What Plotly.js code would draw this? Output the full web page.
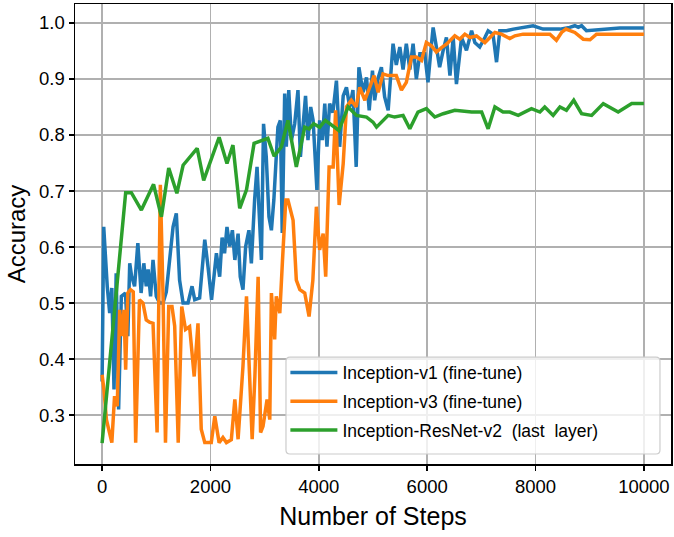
<!DOCTYPE html>
<html>
<head>
<meta charset="utf-8">
<script src="https://cdn.plot.ly/plotly-3.0.1.min.js"></script>
<style>html,body{margin:0;padding:0;background:#fff;}#chart{width:674px;height:537px;}</style>
</head>
<body>
<div id="chart"></div>
<script>
// Inception-v1 (fine-tune)
const stepsV1 = [0,30,95,140,180,220,260,305,355,430,
475,510,545,600,660,720,770,815,850,895,
940,1000,1060,1125,1185,1245,1310,1370,1430,1495,
1585,1660,1710,1800,1895,1955,2020,2110,2170,2215,
2260,2305,2355,2405,2450,2510,2550,2600,2650,2710,
2755,2815,2860,2900,2940,2980,3030,3080,3125,3170,
3245,3290,3325,3370,3400,3445,3495,3555,3615,3660,
3710,3755,3800,3850,3895,3965,4015,4065,4110,4150,
4200,4260,4325,4385,4450,4510,4570,4630,4690,4740,
4815,4880,4930,4990,5030,5090,5155,5215,5280,5370,
5430,5495,5555,5615,5680,5740,5800,5865,5955,6015,
6080,6110,6170,6230,6295,6355,6420,6480,6540,6635,
6725,6790,6820,6880,6970,7065,7125,7215,7280,7340,
7465,7590,7770,7955,8140,8450,8630,8725,8790,8850,
8940,9065,9555,10000];
const accV1 = [0.36,0.636,0.53,0.482,0.527,0.346,0.553,0.31,0.512,0.518,
0.441,0.571,0.548,0.53,0.607,0.518,0.571,0.53,0.56,0.512,
0.577,0.512,0.5,0.5,0.52,0.571,0.636,0.66,0.541,0.5,
0.5,0.53,0.506,0.509,0.613,0.565,0.506,0.589,0.547,0.617,
0.589,0.636,0.601,0.630,0.577,0.624,0.547,0.524,0.601,0.630,
0.571,0.684,0.743,0.660,0.577,0.820,0.761,0.654,0.630,0.684,
0.814,0.826,0.625,0.874,0.779,0.880,0.791,0.820,0.880,0.761,
0.826,0.870,0.791,0.850,0.826,0.702,0.826,0.791,0.856,0.779,
0.856,0.840,0.897,0.779,0.870,0.885,0.850,0.880,0.743,0.921,
0.876,0.903,0.844,0.915,0.862,0.900,0.921,0.868,0.844,0.963,
0.925,0.957,0.917,0.963,0.917,0.963,0.900,0.945,0.945,0.894,
0.963,0.992,0.957,0.921,0.951,0.974,0.906,0.974,0.891,0.974,
0.951,0.974,0.986,0.965,0.957,0.974,0.986,0.980,0.930,0.986,
0.986,0.989,0.992,0.995,0.989,0.989,0.992,0.995,0.992,0.995,
0.986,0.987,0.991,0.991];

// Inception-v3 (fine-tune)
const stepsV3 = [0,35,80,140,180,230,280,325,365,405,
435,475,525,575,620,690,755,815,875,940,
1015,1075,1125,1170,1230,1290,1340,1405,1470,1540,
1615,1700,1770,1830,1895,2015,2080,2160,2230,2295,
2385,2450,2510,2600,2665,2720,2770,2820,2880,2925,
2970,3045,3095,3125,3185,3215,3280,3330,3390,3430,
3490,3525,3585,3650,3740,3820,3890,3955,4015,4080,
4127,4190,4265,4310,4375,4450,4510,4600,4690,4755,
4850,4940,5020,5095,5185,5280,5430,5525,5615,5710,
5800,5895,5985,6080,6170,6265,6355,6510,6600,6695,
6790,6910,7065,7250,7370,7525,7620,7770,7955,8265,
8385,8480,8560,8725,8880,9005,9125,10000];
const accV3 = [0.372,0.345,0.292,0.265,0.251,0.334,0.316,0.488,0.441,0.488,
0.381,0.518,0.524,0.52,0.251,0.506,0.5,0.470,0.466,0.464,
0.269,0.711,0.512,0.251,0.494,0.494,0.459,0.251,0.494,0.453,
0.458,0.369,0.464,0.275,0.251,0.251,0.298,0.251,0.26,0.251,
0.256,0.328,0.257,0.387,0.512,0.375,0.257,0.369,0.547,0.269,
0.28,0.328,0.292,0.518,0.435,0.512,0.482,0.577,0.684,0.684,
0.660,0.648,0.541,0.524,0.518,0.476,0.541,0.672,0.595,0.624,
0.547,0.743,0.743,0.844,0.675,0.749,0.850,0.862,0.850,0.885,
0.862,0.885,0.906,0.876,0.909,0.906,0.906,0.880,0.894,0.939,
0.939,0.933,0.965,0.959,0.948,0.956,0.962,0.977,0.971,0.980,
0.974,0.977,0.965,0.983,0.980,0.972,0.977,0.980,0.980,0.980,
0.969,0.983,0.989,0.983,0.971,0.970,0.980,0.980];

// Inception-ResNet-v2 (last layer)
const stepsRes = [0,435,540,725,950,1095,1230,1380,1495,1755,
1875,2160,2305,2415,2540,2665,2805,3060,3175,3310,
3430,3585,3740,3820,3905,4015,4120,4370,4540,4695,
4880,5000,5065,5280,5400,5555,5680,5830,5985,6140,
6295,6510,6820,7005,7125,7250,7400,7525,7680,7925,
8080,8170,8325,8450,8570,8705,8850,9035,9250,9525,
9775,10000];
const accRes = [0.25,0.697,0.697,0.666,0.712,0.654,0.741,0.696,0.746,0.776,
0.719,0.796,0.749,0.782,0.669,0.702,0.785,0.794,0.762,0.779,
0.826,0.743,0.814,0.811,0.820,0.814,0.826,0.808,0.850,0.835,
0.832,0.823,0.814,0.835,0.832,0.835,0.811,0.841,0.847,0.832,
0.838,0.844,0.841,0.841,0.811,0.850,0.841,0.841,0.835,0.847,
0.841,0.850,0.835,0.850,0.844,0.862,0.838,0.835,0.856,0.841,
0.856,0.856];

const seriesNames = ["Inception-v1 (fine-tune)", "Inception-v3 (fine-tune)", "Inception-ResNet-v2  (last  layer)"];
const seriesColors = ["#1f77b4", "#ff7f0e", "#2ca02c"];
const xTickVals = [0, 2000, 4000, 6000, 8000, 10000];
const yTickVals = [0.3, 0.4, 0.5, 0.6, 0.7, 0.8, 0.9, 1.0];

const xs = [stepsV1, stepsV3, stepsRes];
const ys = [accV1, accV3, accRes];
const traces = xs.map((x, i) => ({
  x: x, y: ys[i], type: 'scatter', mode: 'lines', name: seriesNames[i],
  legendgroup: 'g' + i,
  line: {color: seriesColors[i], width: 3.5, shape: 'linear'}
}));

// legend frame (rounded rectangle, paper coordinates)
const bx0 = 0.354, bx1 = 0.9815, by0 = 0.0217, by1 = 0.2324, rx = 0.0067, ry = 0.0087;
const legendFrame = `M ${bx0+rx},${by0} L ${bx1-rx},${by0} Q ${bx1},${by0} ${bx1},${by0+ry} ` +
  `L ${bx1},${by1-ry} Q ${bx1},${by1} ${bx1-rx},${by1} L ${bx0+rx},${by1} Q ${bx0},${by1} ${bx0},${by1-ry} ` +
  `L ${bx0},${by0+ry} Q ${bx0},${by0} ${bx0+rx},${by0} Z`;

const FONT = '"Liberation Sans", Arial, Helvetica, sans-serif';
const layout = {
  width: 674, height: 537,
  margin: {l: 75, r: 3, t: 4, b: 73},
  paper_bgcolor: '#fff', plot_bgcolor: '#fff',
  font: {family: FONT, color: '#000', size: 18},
  showlegend: true,
  xaxis: {
    range: [-500, 10500], tickvals: xTickVals, ticktext: xTickVals.map(String),
    showgrid: true, gridcolor: '#b0b0b0', gridwidth: 1.5, zeroline: false,
    showline: true, mirror: true, linecolor: '#000', linewidth: 1.5,
    ticks: 'outside', ticklen: 5, tickwidth: 1.5, tickcolor: '#000',
    tickfont: {size: 18.5, family: FONT},
    title: {text: 'Number of Steps', font: {size: 25, family: FONT}, standoff: 12}
  },
  yaxis: {
    range: [0.2128, 1.0338], tickvals: yTickVals, ticktext: yTickVals.map(v => v.toFixed(1)),
    showgrid: true, gridcolor: '#b0b0b0', gridwidth: 1.5, zeroline: false,
    showline: true, mirror: true, linecolor: '#000', linewidth: 1.5,
    ticks: 'outside', ticklen: 5, tickwidth: 1.5, tickcolor: '#000',
    tickfont: {size: 18.5, family: FONT},
    title: {text: 'Accuracy', font: {size: 24, family: FONT}, standoff: 6}
  },
  legend: {
    x: 0.353, y: 0.238, xanchor: 'left', yanchor: 'top',
    bgcolor: 'rgba(0,0,0,0)', borderwidth: 0,
    font: {size: 17.5, family: FONT, color: '#000'},
    traceorder: 'grouped', tracegroupgap: 3, itemwidth: 47
  },
  shapes: [{
    type: 'path', xref: 'paper', yref: 'paper', layer: 'above', path: legendFrame,
    fillcolor: 'rgba(255,255,255,0.8)', line: {color: '#cccccc', width: 1.2}
  }]
};

Plotly.newPlot('chart', traces, layout, {displayModeBar: false, staticPlot: true});
</script>
</body>
</html>
